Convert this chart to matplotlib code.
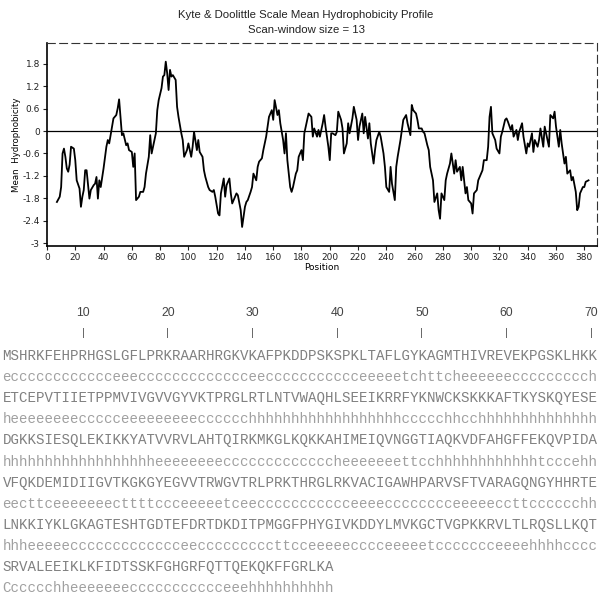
import matplotlib.pyplot as plt

# hydrophobicity profile (position, window mean)
pos = [7, 9, 10, 11, 12, 13, 14, 15, 16, 17, 19, 20, 21, 23, 24, 25, 26, 27, 28, 30,
       31, 33, 34, 35, 36, 37, 38, 40, 42, 43, 44, 46, 47, 49, 50, 51, 52, 53, 54, 56,
       57, 58, 60, 61, 62, 63, 65, 66, 68, 69, 70, 72, 73, 74, 75, 77, 78, 79, 81, 82,
       83, 84, 85, 86, 87, 88, 89, 91, 92, 93, 95, 96, 97, 99, 100, 102, 103, 104, 106, 107,
       108, 110, 111, 112, 114, 115, 117, 118, 119, 121, 122, 123, 125, 126, 127, 129, 130, 131, 133, 134,
       135, 137, 138, 140, 141, 142, 144, 145, 146, 148, 149, 150, 152, 153, 155, 156, 157, 159, 160, 161,
       163, 164, 165, 167, 168, 169, 170, 172, 173, 174, 176, 177, 178, 180, 181, 182, 184, 185, 187, 188,
       189, 191, 192, 193, 195, 196, 197, 199, 200, 201, 202, 204, 205, 206, 208, 209, 210, 212, 213, 214,
       216, 217, 219, 220, 221, 223, 224, 225, 227, 228, 229, 231, 232, 233, 235, 236, 238, 239, 240, 242,
       243, 244, 246, 247, 248, 250, 251, 252, 254, 255, 257, 258, 259, 261, 262, 263, 265, 266, 267, 269,
       270, 271, 273, 274, 276, 277, 278, 279, 281, 282, 283, 285, 286, 288, 289, 290, 292, 293, 294, 296,
       297, 298, 300, 301, 302, 304, 305, 307, 308, 309, 311, 312, 313, 314, 315, 317, 318, 320, 321, 322,
       324, 325, 326, 328, 329, 330, 332, 333, 334, 336, 337, 339, 340, 341, 343, 344, 345, 347, 348, 349,
       351, 352, 353, 355, 356, 358, 359, 360, 362, 363, 364, 366, 367, 368, 370, 371, 372, 374, 375, 376,
       377, 379, 380, 381, 383]
kd = [-1.90, -1.76, -1.50, -0.60, -0.47, -0.69, -1.00, -1.09, -0.90, -0.42, -0.47, -0.78, -1.32, -1.54, -2.03, -1.76, -1.58, -1.05, -1.05, -1.81,
      -1.58, -1.45, -1.41, -1.23, -1.81, -1.32, -1.50, -1.00, -0.42, -0.24, -0.33, 0.12, 0.34, 0.43, 0.61, 0.85, 0.38, -0.11, -0.06, -0.38,
      -0.33, -0.51, -0.56, -0.96, -0.60, -1.85, -1.76, -1.63, -1.63, -1.50, -1.14, -0.69, -0.11, -0.60, -0.42, -0.06, 0.56, 0.83, 1.15, 1.46,
      1.50, 1.86, 1.55, 1.10, 1.64, 1.46, 1.50, 1.37, 0.65, 0.38, -0.06, -0.24, -0.69, -0.51, -0.33, -0.69, -0.42, -0.02, -0.51, -0.24,
      -0.56, -0.69, -1.05, -1.23, -1.50, -1.58, -1.63, -1.58, -1.76, -2.21, -2.26, -1.67, -1.27, -1.76, -1.45, -1.27, -1.67, -1.94, -1.76, -1.67,
      -1.72, -2.12, -2.57, -2.03, -1.90, -1.85, -1.63, -1.50, -1.14, -1.32, -0.96, -0.82, -0.73, -0.51, -0.15, 0.12, 0.38, 0.56, 0.30, 0.83,
      0.43, 0.56, 0.21, -0.24, -0.60, -0.06, -0.78, -1.50, -1.63, -1.50, -1.14, -1.05, -0.69, -0.51, -0.78, -0.06, 0.30, 0.47, 0.38, -0.15,
      0.07, -0.15, 0.03, -0.15, 0.21, 0.43, 0.12, -0.42, -0.78, -0.06, -0.06, -0.11, -0.02, 0.52, 0.30, 0.07, -0.60, -0.33, 0.21, -0.06,
      0.34, 0.65, 0.30, -0.24, 0.12, 0.47, -0.06, 0.38, -0.20, 0.21, -0.33, -0.87, -0.51, -0.24, -0.02, -0.15, -0.60, -0.96, -1.50, -1.63,
      -0.96, -1.41, -1.85, -0.96, -0.69, -0.24, 0.03, 0.30, 0.43, 0.21, -0.11, 0.70, 0.56, 0.47, 0.30, 0.07, 0.07, -0.02, -0.06, -0.38,
      -0.51, -0.96, -1.32, -1.90, -1.67, -2.12, -2.35, -1.67, -1.85, -1.32, -1.14, -0.87, -0.60, -1.14, -0.78, -1.09, -0.96, -1.32, -0.96, -1.67,
      -1.50, -1.85, -1.94, -2.21, -1.67, -1.58, -1.32, -1.14, -1.05, -0.78, -0.78, -0.42, 0.38, 0.65, -0.06, -0.24, -0.47, -0.60, -0.15, -0.02,
      0.30, 0.34, 0.25, 0.03, 0.16, -0.15, 0.03, -0.24, -0.02, 0.21, -0.15, -0.60, -0.33, -0.42, -0.06, -0.56, -0.24, -0.42, -0.24, 0.07,
      -0.42, 0.12, -0.06, -0.42, 0.43, 0.34, 0.52, 0.12, -0.42, 0.03, -0.33, -0.87, -0.69, -1.14, -1.05, -1.32, -1.23, -1.63, -2.12, -2.03,
      -1.67, -1.50, -1.50, -1.36, -1.32]

yticks = [1.8, 1.2, 0.6, 0, -0.6, -1.2, -1.8, -2.4, -3]
ytick_labels = ['1.8', '1.2', '0.6', '0', '-0.6', '-1.2', '-1.8', '-2.4', '-3']
xticks = list(range(0, 381, 20))

# sequence and predicted secondary structure, 70 residues per line
seq_lines = [
    "MSHRKFEHPRHGSLGFLPRKRAARHRGKVKAFPKDDPSKSPKLTAFLGYKAGMTHIVREVEKPGSKLHKK",
    "ETCEPVTIIETPPMVIVGVVGYVKTPRGLRTLNTVWAQHLSEEIKRRFYKNWCKSKKKAFTKYSKQYESE",
    "DGKKSIESQLEKIKKYATVVRVLAHTQIRKMKGLKQKKAHIMEIQVNGGTIAQKVDFAHGFFEKQVPIDA",
    "VFQKDEMIDIIGVTKGKGYEGVVTRWGVTRLPRKTHRGLRKVACIGAWHPARVSFTVARAGQNGYHHRTE",
    "LNKKIYKLGKAGTESHTGDTEFDRTDKDITPMGGFPHYGIVKDDYLMVKGCTVGPKKRVLTLRQSLLKQT",
    "SRVALEEIKLKFIDTSSKFGHGRFQTTQEKQKFFGRLKA",
]
ss_lines = [
    "e" "cccccccccccc" "eee" "ccccccccccccc" "ee" "ccccccccccc" "eeeee" "tchttch"
    "eeeeee" "ccccccccc" "h",
    "h" "eeeeeeee" "ccccc" "eeeeeeeee" "cccccc" "hhhhhhhhhhhhhhhhhh" "ccccc" "hh" "cc"
    "hhhhhhhhhhhhhh",
    "hhhhhhhhhhhhhhhhhh" "eeeeeeee" "ccccccccccccc" "h" "eeeeeee" "tt" "cc"
    "hhhhhhhhhhhh" "t" "ccc" "e" "hh",
    "eec" "tt" "c" "eeeeeee" "c" "tttt" "ccc" "eeeee" "t" "c" "ee" "ccccccccccc" "eeee"
    "cccccccc" "eeeee" "cc" "tt" "cccccc" "hh",
    "hhh" "eeeee" "ccccccccccccc" "ee" "ccccccccc" "tt" "cc" "eeeee" "cccc" "eeeee" "t"
    "ccccccc" "eeee" "hhhh" "cccc",
    "C" "ccccc" "hh" "eeeeeee" "ccccccccccc" "eee" "hhhhhhhhhh",
]
ruler = [10, 20, 30, 40, 50, 60, 70]

W, H = 602, 598
fig = plt.figure(figsize=(W / 100, H / 100), dpi=100)
ax = fig.add_axes([47 / W, 1 - 246 / H, 550 / W, 203 / H])

ax.plot(pos, kd, color='black', lw=1.3)
ax.axhline(0, color='black', lw=0.9)
ax.set_xlim(0, 389)
ax.set_ylim(-3.08, 2.36)
ax.set_yticks(yticks)
ax.set_yticklabels(ytick_labels)
ax.set_xticks(xticks)
ax.tick_params(labelsize=6.5, length=3, width=0.8, pad=2, colors='#222222')
for s in ['top', 'right']:
    ax.spines[s].set_linestyle((0, (7, 4)))
    ax.spines[s].set_color('#333333')
for s in ['left', 'bottom']:
    ax.spines[s].set_linewidth(1.2)
ax.set_xlabel('Position', fontsize=6.5, labelpad=1)
ax.set_ylabel('Mean  Hydrophobicity', fontsize=6.2)
ax.yaxis.set_label_coords(-0.048, 0.5)

fig.text(306 / W, 1 - 15 / H, 'Kyte & Doolittle Scale Mean Hydrophobicity Profile',
         ha='center', va='center', fontsize=8.2, color='#222222', family='Liberation Sans')
fig.text(306 / W, 1 - 30 / H, 'Scan-window size = 13',
         ha='center', va='center', fontsize=8.2, color='#222222', family='Liberation Sans')

# text block below the chart
cw = 8.47
x0 = 2.6
mono = 'Liberation Mono'
fs = cw / 0.6 * 72 / 100
for n in ruler:
    xc = x0 + (n - 0.5) * cw
    fig.text(xc / W, 1 - 313 / H, str(n), ha='center', va='center',
             fontsize=8.8, color='#444444', family='Liberation Sans')
    fig.text(xc / W, 1 - 333 / H, '|', ha='center', va='center',
             fontsize=8, color='#555555', family='Liberation Sans')

y = 356
step = 21.1
for sq, ss in zip(seq_lines, ss_lines):
    fig.text(x0 / W, 1 - y / H, sq, ha='left', va='center', fontsize=fs,
             family=mono, color='#808080')
    y += step
    fig.text(x0 / W, 1 - y / H, ss, ha='left', va='center', fontsize=fs,
             family=mono, color='#a0a0a0')
    y += step

fig.savefig('out.png', dpi=100)
